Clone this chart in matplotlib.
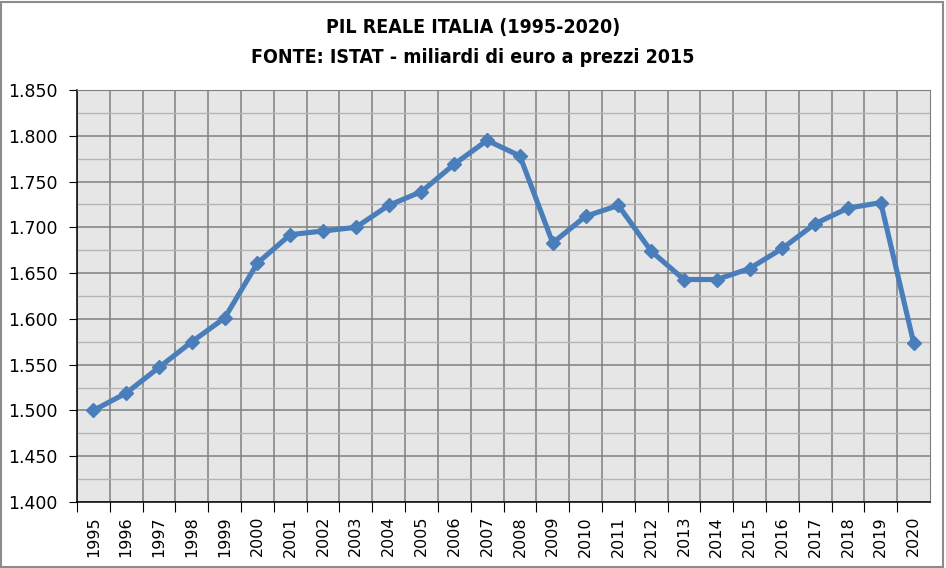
import matplotlib.pyplot as plt
from matplotlib.ticker import FixedLocator, FuncFormatter
import numpy as np

# Data (miliardi di euro, prezzi 2015)
anni = list(range(1995, 2021))
pil = [1500, 1519, 1547, 1575, 1601, 1661, 1692, 1696, 1700, 1724,
       1739, 1769, 1795, 1778, 1683, 1712, 1724, 1674, 1643, 1643,
       1655, 1677, 1704, 1721, 1727, 1574]

titolo = "PIL REALE ITALIA (1995-2020)\nFONTE: ISTAT - miliardi di euro a prezzi 2015"

fig = plt.figure(figsize=(9.46, 5.68), dpi=100)
ax = fig.add_axes([77 / 946, 66 / 568, 853 / 946, 412 / 568])

x = np.arange(len(anni))
ax.set_facecolor("#e6e6e6")
ax.plot(x, pil, color="#4a7ebb", lw=3.7, marker="D", ms=7.5, mec="#4a7ebb", zorder=3)

ax.set_xlim(-0.5, len(anni) - 0.5)
ax.set_ylim(1400, 1850)

# y axis
ax.set_yticks(np.arange(1400, 1851, 50))
ax.yaxis.set_minor_locator(FixedLocator(np.arange(1425, 1850, 50)))
ax.yaxis.set_major_formatter(FuncFormatter(lambda v, p: f"{v / 1000:.3f}"))
ax.tick_params(axis="y", which="major", direction="out", length=6, labelsize=12.5, pad=8)
ax.tick_params(axis="y", which="minor", length=0)
ax.grid(axis="y", which="major", color="#808080", lw=1.1)
ax.grid(axis="y", which="minor", color="#b4b4b4", lw=1.0)

# x axis: ticks between categories, labels centered
ax.set_xticks(x - 0.5)
ax.set_xticklabels([])
ax.set_xticks(x, minor=True)
ax.set_xticklabels([str(a) for a in anni], minor=True, rotation=90, fontsize=11.5)
ax.tick_params(axis="x", which="major", direction="out", length=7)
ax.tick_params(axis="x", which="minor", length=0, pad=10)
ax.grid(axis="x", which="major", color="#808080", lw=1.1)
ax.set_axisbelow(True)

for s in ["left", "bottom"]:
    ax.spines[s].set_color("black")
    ax.spines[s].set_linewidth(1.1)
for s in ["top", "right"]:
    ax.spines[s].set_color("#808080")

fig.text(0.5, 0.968, titolo, ha="center", va="top", fontsize=14, fontweight="bold",
         family="DejaVu Sans", fontstretch="condensed", linespacing=1.7)

# chart border
fig.patches.append(plt.Rectangle((0.001, 0.002), 0.996, 0.995, transform=fig.transFigure,
                                 fill=False, ec="#8c8c8c", lw=1.5))

fig.savefig("out.png", dpi=100)
